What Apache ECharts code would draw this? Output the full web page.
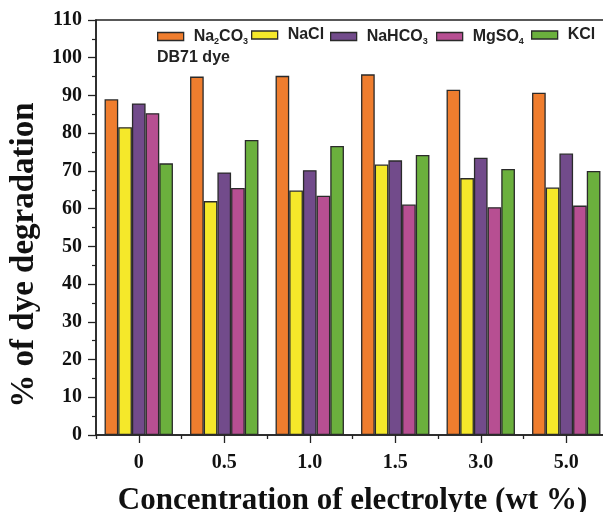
<!DOCTYPE html>
<html>
<head>
<meta charset="utf-8">
<script src="https://cdn.jsdelivr.net/npm/echarts@6/dist/echarts.min.js"></script>
<style>
html,body{margin:0;padding:0;background:#fff;}
#chart{width:603px;height:512px;}
</style>
</head>
<body>
<div id="chart"></div>
<script>
var categories = ['0', '0.5', '1.0', '1.5', '3.0', '5.0'];
var seriesNames = ['Na2CO3', 'NaCl', 'NaHCO3', 'MgSO4', 'KCl'];
var na2co3 = [89.0, 95.0, 95.2, 95.6, 91.5, 90.7];
var nacl = [81.6, 62.0, 64.8, 71.7, 68.1, 65.6];
var nahco3 = [87.9, 69.6, 70.2, 72.8, 73.5, 74.6];
var mgso4 = [85.3, 65.5, 63.4, 61.1, 60.4, 60.8];
var kcl = [72.0, 78.2, 76.6, 74.2, 70.5, 70.0];
var yTicks = [0, 10, 20, 30, 40, 50, 60, 70, 80, 90, 100, 110];

var colors = ['#EF7D2E', '#F5E82A', '#724B8B', '#B74F92', '#6BB03D'];
var values = [na2co3, nacl, nahco3, mgso4, kcl];
var legendLabels = {
  'Na2CO3': '{n|Na}{s|2}{n|CO}{s|3}',
  'NaCl': '{n|NaCl}',
  'NaHCO3': '{n|NaHCO}{s|3}',
  'MgSO4': '{n|MgSO}{s|4}',
  'KCl': '{n|KCl}'
};
var legendLeft = [157, 251, 330, 436, 531];

var axisColor = '#222';
var serif = '"Liberation Serif", "Times New Roman", serif';
var sans = '"Liberation Sans", Arial, sans-serif';

var legends = seriesNames.map(function (name, i) {
  return {
    data: [name],
    left: legendLeft[i],
    top: 27,
    padding: 0,
    icon: 'rect',
    itemWidth: 26,
    itemHeight: 8,
    itemGap: 0,
    selectedMode: false,
    itemStyle: { borderColor: '#2a2a2a', borderWidth: 1.3 },
    formatter: function (n) { return legendLabels[n]; },
    textStyle: {
      padding: [0, 0, 0, 5],
      rich: {
        n: { fontFamily: sans, fontWeight: 'bold', fontSize: 16, color: '#222', lineHeight: 17 },
        s: { fontFamily: sans, fontWeight: 'bold', fontSize: 9, color: '#222', lineHeight: 17, padding: [10, 0, 0, 0] }
      }
    }
  };
});

var series = seriesNames.map(function (name, i) {
  return {
    name: name,
    type: 'bar',
    data: values[i],
    xAxisIndex: 0,
    barGap: '0%',
    barCategoryGap: '20%',
    itemStyle: { color: colors[i], borderColor: '#2a2a2a', borderWidth: 1.3 }
  };
});

var chart = echarts.init(document.getElementById('chart'), null, { renderer: 'canvas' });
chart.setOption({
  animation: false,
  backgroundColor: '#fff',
  grid: {
    left: 96, right: -6, top: 20, bottom: 77,
    outerBoundsMode: 'none', containLabel: false,
    show: true, borderColor: axisColor, borderWidth: 1.5, backgroundColor: 'transparent'
  },
  legend: legends,
  xAxis: [
    {
      type: 'category',
      data: categories,
      position: 'bottom',
      name: 'Concentration of electrolyte (wt %)',
      nameLocation: 'middle',
      nameGap: 50,
      nameTextStyle: { fontFamily: serif, fontWeight: 'bold', fontSize: 31, color: '#111' },
      axisLine: { show: true, lineStyle: { color: axisColor, width: 1.5 } },
      axisTick: { show: true, alignWithLabel: true, length: 8, lineStyle: { color: axisColor, width: 1.3 } },
      axisLabel: { margin: 18, fontFamily: serif, fontWeight: 'bold', fontSize: 20, color: '#111' },
      splitLine: { show: false }
    },
    {
      type: 'category',
      data: categories,
      position: 'bottom',
      offset: 0,
      axisLine: { show: false },
      axisTick: { show: true, alignWithLabel: false, length: 4, lineStyle: { color: axisColor, width: 1.3 } },
      axisLabel: { show: false },
      splitLine: { show: false }
    }
  ],
  yAxis: {
    type: 'value',
    min: yTicks[0],
    max: yTicks[yTicks.length - 1],
    interval: 10,
    axisLine: { show: true, lineStyle: { color: axisColor, width: 1.5 } },
    axisTick: { show: true, length: 8, lineStyle: { color: axisColor, width: 1.3 } },
    minorTick: { show: true, splitNumber: 2, length: 4, lineStyle: { color: axisColor, width: 1.2 } },
    axisLabel: { margin: 14, fontFamily: serif, fontWeight: 'bold', fontSize: 20, color: '#111' },
    splitLine: { show: false }
  },
  graphic: [
    {
      type: 'text',
      x: 24,
      y: 255,
      rotation: Math.PI / 2,
      style: {
        text: '% of dye degradation',
        fontFamily: serif, fontWeight: 'bold', fontSize: 33, fill: '#111',
        align: 'center', verticalAlign: 'middle'
      }
    },
    {
      type: 'text',
      x: 157,
      y: 58,
      style: {
        text: 'DB71 dye',
        fontFamily: sans, fontWeight: 'bold', fontSize: 16, fill: '#222',
        align: 'left', verticalAlign: 'middle'
      }
    }
  ],
  series: series
});
</script>
</body>
</html>
